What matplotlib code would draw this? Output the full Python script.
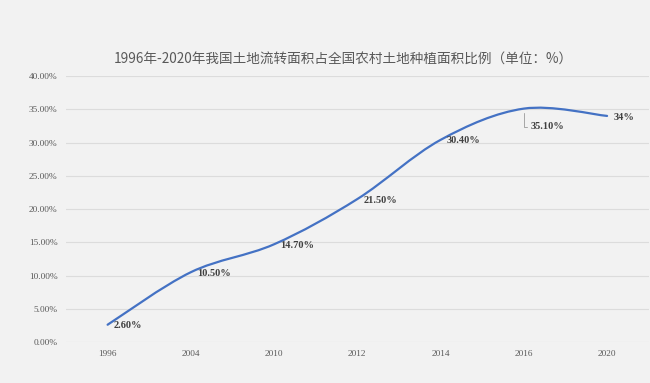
import numpy as np
import matplotlib
matplotlib.use('Agg')
import matplotlib.pyplot as plt
from matplotlib.path import Path
from matplotlib.patches import PathPatch

years = ['1996', '2004', '2010', '2012', '2014', '2016', '2020']
share = [2.6, 10.5, 14.7, 21.5, 30.4, 35.1, 34.0]
labels = ['2.60%', '10.50%', '14.70%', '21.50%', '30.40%', '35.10%', '34%']
title = '1996年-2020年我国土地流转面积占全国农村土地种植面积比例（单位：%）'

bg = '#f2f2f2'
line_color = '#4472c4'
text_color = '#595959'


def smooth_path(xs, ys):
    # excel-like smoothed line: cubic bezier with control points from neighbours
    n = len(xs)
    verts = [(xs[0], ys[0])]
    codes = [Path.MOVETO]
    for i in range(n - 1):
        i0 = max(i - 1, 0)
        i3 = min(i + 2, n - 1)
        c1 = (xs[i] + (xs[i + 1] - xs[i0]) / 6, ys[i] + (ys[i + 1] - ys[i0]) / 6)
        c2 = (xs[i + 1] - (xs[i3] - xs[i]) / 6, ys[i + 1] - (ys[i3] - ys[i]) / 6)
        verts += [c1, c2, (xs[i + 1], ys[i + 1])]
        codes += [Path.CURVE4] * 3
    return Path(verts, codes)


fig = plt.figure(figsize=(6.5, 3.83), dpi=100, facecolor=bg)
ax = fig.add_axes([0.1015, 0.107, 0.8965, 0.6945])
ax.set_facecolor(bg)

x = np.arange(len(years))
path = smooth_path(list(x), share)
ax.add_patch(PathPatch(path, facecolor='none', edgecolor=line_color, lw=1.6,
                       capstyle='round', zorder=3))

ax.set_xlim(-0.5, len(years) - 0.5)
ax.set_ylim(0, 40)
ax.set_yticks(np.arange(0, 41, 5))
ax.set_yticklabels(['%.2f%%' % v for v in np.arange(0, 41, 5)])
ax.set_xticks(x)
ax.set_xticklabels(years)
ax.grid(axis='y', color='#dcdcdc', lw=0.8)
ax.set_axisbelow(True)
for s in ax.spines.values():
    s.set_visible(False)
ax.tick_params(length=0, colors=text_color, labelsize=6.7)
ax.tick_params(axis='y', pad=6)
ax.tick_params(axis='x', pad=6)
for t in ax.get_xticklabels() + ax.get_yticklabels():
    t.set_fontfamily('Liberation Serif')

for i, (v, lab) in enumerate(zip(share, labels)):
    if years[i] == '2016':
        ax.annotate(lab, xy=(i, v), xytext=(5, -13), textcoords='offset points',
                    ha='left', va='center', fontsize=7.5, fontweight='bold',
                    family='Liberation Serif', color='#404040',
                    arrowprops=dict(arrowstyle='-', color='#a6a6a6', lw=0.7,
                                    shrinkA=1, shrinkB=3,
                                    connectionstyle='angle,angleA=0,angleB=90,rad=0'))
    else:
        ax.annotate(lab, xy=(i, v), xytext=(4.5, -0.8), textcoords='offset points',
                    ha='left', va='center', fontsize=7.5, fontweight='bold',
                    family='Liberation Serif', color='#404040')

fig.text(0.5285, 0.843, title, ha='center', va='center', fontsize=9.8,
         color=text_color, family=['Noto Sans CJK SC', 'DejaVu Sans'])

fig.savefig('out.png', dpi=100, facecolor=bg)
